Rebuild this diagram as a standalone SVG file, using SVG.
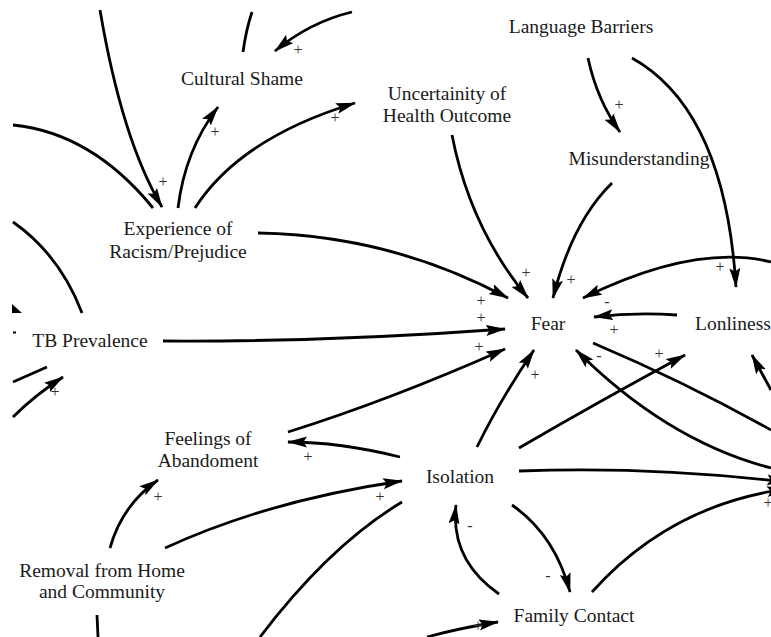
<svg xmlns="http://www.w3.org/2000/svg" width="771" height="637" viewBox="0 0 771 637">
  <style>
    text { font-family: "Liberation Serif", "DejaVu Serif", "Noto Serif", "Times New Roman", Times, serif; }
    .node { font-size: 19.5px; fill: #1a1a1a; text-anchor: middle; }
    .link { fill: none; stroke: #000; stroke-width: 2.8; }
    .arrow { marker-end: url(#head); }
    .pol { font-size: 16px; fill: #333; text-anchor: middle; }
  </style>
  <defs>
    <marker id="head" markerUnits="userSpaceOnUse" markerWidth="22" markerHeight="12" refX="19" refY="5.5" orient="auto">
      <path d="M0,0 L20,5.5 L0,11 L3.5,5.5 Z" fill="#000"/>
    </marker>
  </defs>
  <rect width="771" height="637" fill="#fff"/>

  <!-- connectors -->
  <g id="links">
    <path class="link arrow" d="M100,10 Q122,140 162,207"/>
    <path class="link" d="M153,208 Q92,133 13,125"/>
    <path class="link" d="M82,313 Q60,255 13,222"/>
    <path class="link arrow" d="M178,208 Q185,150 218,107"/>
    <path class="link arrow" d="M195,208 Q240,138 355,103"/>
    <path class="link" d="M243,52 Q246,30 252,12"/>
    <path class="link arrow" d="M352,12 Q310,22 275,51"/>
    <path class="link arrow" d="M258,233 Q390,235 508,298"/>
    <path class="link arrow" d="M452,135 Q470,228 528,298"/>
    <path class="link arrow" d="M612,183 Q572,222 553,298"/>
    <path class="link arrow" d="M771,262 Q695,243 583,298"/>
    <path class="link arrow" d="M632,58 Q725,110 736,287"/>
    <path class="link arrow" d="M588,58 Q597,100 620,132"/>
    <path class="link arrow" d="M677,315 Q635,312 594,317"/>
    <path class="link arrow" d="M163,341 Q330,342 505,329"/>
    <path class="link arrow" d="M288,432 Q390,400 505,349"/>
    <path class="link arrow" d="M477,447 Q500,400 534,350"/>
    <path class="link arrow" d="M519,448 Q598,402 685,355"/>
    <path class="link" d="M593,343 Q685,382 771,430"/>
    <path class="link arrow" d="M771,468 Q667,441 576,350"/>
    <path class="link arrow" d="M771,390 Q760,370 752,355"/>
    <path class="link arrow" d="M519,471 Q650,466 786,482"/>
    <path class="link arrow" d="M592,592 Q670,505 786,489"/>
    <path class="link arrow" d="M512,505 Q555,535 570,592"/>
    <path class="link arrow" d="M499,594 Q450,560 456,505"/>
    <path class="link arrow" d="M400,457 Q340,442 288,442"/>
    <path class="link arrow" d="M110,548 Q122,505 158,480"/>
    <path class="link arrow" d="M165,548 Q270,500 402,481"/>
    <path class="link" d="M97,615 L98,637"/>
    <path class="link" d="M402,502 Q330,545 260,637"/>
    <path class="link arrow" d="M427,637 Q460,628 498,622"/>
    <path class="link" d="M13,382 L47,367"/>
    <path class="link arrow" d="M13,417 Q35,395 63,377"/>
    <path d="M12,304 L22,313 L12,313 Z" fill="#000"/>
    <rect x="13" y="331.5" width="3" height="2" fill="#000"/>
  </g>

  <!-- link polarities -->
  <g id="polarities">
    <text class="pol" x="163" y="187">+</text>
    <text class="pol" x="215" y="137">+</text>
    <text class="pol" x="335" y="123">+</text>
    <text class="pol" x="298" y="55">+</text>
    <text class="pol" x="619" y="110">+</text>
    <text class="pol" x="720" y="272">+</text>
    <text class="pol" x="526" y="278">+</text>
    <text class="pol" x="571" y="285">+</text>
    <text class="pol" x="481" y="306">+</text>
    <text class="pol" x="481" y="323">+</text>
    <text class="pol" x="479" y="352">+</text>
    <text class="pol" x="607" y="307">-</text>
    <text class="pol" x="614" y="335">+</text>
    <text class="pol" x="599" y="361">-</text>
    <text class="pol" x="535" y="380">+</text>
    <text class="pol" x="659" y="359">+</text>
    <text class="pol" x="55" y="397">+</text>
    <text class="pol" x="308" y="462">+</text>
    <text class="pol" x="158" y="502">+</text>
    <text class="pol" x="380" y="502">+</text>
    <text class="pol" x="470" y="531">-</text>
    <text class="pol" x="548" y="581">-</text>
    <text class="pol" x="768" y="508">+</text>
    <text class="pol" x="478" y="631">+</text>
  </g>

  <!-- variables -->
  <g id="cultural-shame"><text class="node" x="242" y="85">Cultural Shame</text></g>
  <g id="uncertainty"><text class="node" x="447" y="100">Uncertainity of</text><text class="node" x="447" y="122">Health Outcome</text></g>
  <g id="language-barriers"><text class="node" x="581" y="33">Language Barriers</text></g>
  <g id="misunderstanding"><text class="node" x="639" y="165">Misunderstanding</text></g>
  <g id="racism"><text class="node" x="178" y="235">Experience of</text><text class="node" x="178" y="258">Racism/Prejudice</text></g>
  <g id="fear"><text class="node" x="548" y="330">Fear</text></g>
  <g id="loneliness"><text class="node" x="695" y="330" style="text-anchor:start">Lonliness</text></g>
  <g id="tb-prevalence"><text class="node" x="90" y="347">TB Prevalence</text></g>
  <g id="abandonment"><text class="node" x="208" y="445">Feelings of</text><text class="node" x="208" y="467">Abandoment</text></g>
  <g id="isolation"><text class="node" x="460" y="483">Isolation</text></g>
  <g id="removal"><text class="node" x="102" y="577">Removal from Home</text><text class="node" x="102" y="598">and Community</text></g>
  <g id="family-contact"><text class="node" x="574" y="622">Family Contact</text></g>
</svg>
